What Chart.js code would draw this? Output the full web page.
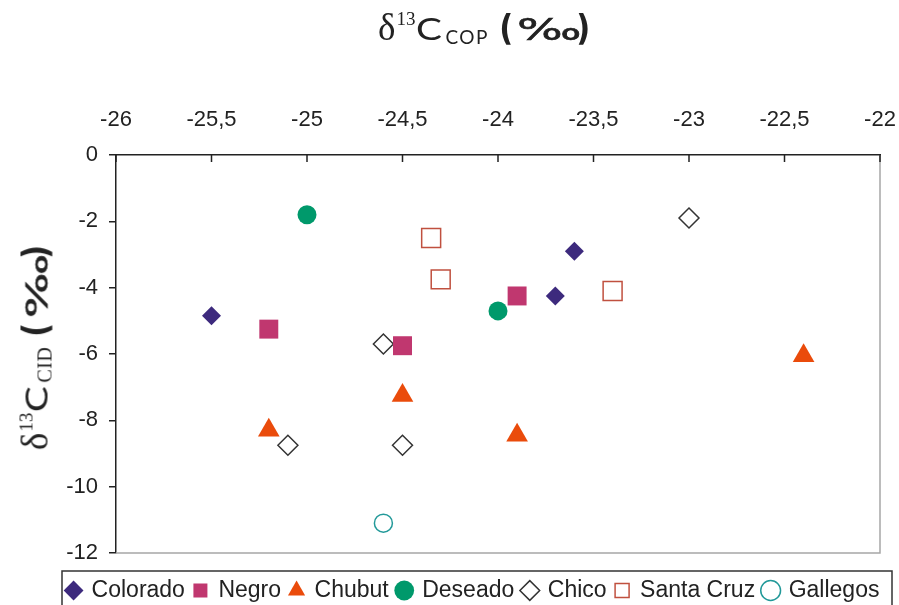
<!DOCTYPE html>
<html>
<head>
<meta charset="utf-8">
<script src="https://cdn.jsdelivr.net/npm/chart.js@4.4.1/dist/chart.umd.min.js"></script>
<style>
  body { margin: 0; background: #fff; overflow: hidden; }
  #wrap { position: relative; width: 899px; height: 605px; }
  .ttl { position: absolute; white-space: nowrap; color: #222; font-family: Lato, "Open Sans", sans-serif; line-height: 1; }
  .ttl span { display: inline-block; }
  .ttl .g { font-family: "Liberation Serif", serif; font-size: 37px; }
  .ttl .sup { font-family: "Liberation Serif", serif; font-size: 19px; position: relative; top: -15px; margin-left: 1px; }
  .ttl .c { font-size: 31px; width: 29px; transform: scaleX(1.25); transform-origin: left; margin-left: 1px; }
  .ttl .sub { font-size: 19px; letter-spacing: 1.5px; position: relative; top: 4px; }
  .ttl .pm { font-family: "DejaVu Sans", sans-serif; margin-left: 9px; }
  .ttl .par { font-size: 36px; font-weight: bold; transform: scaleX(0.85); }
  .ttl .per { font-size: 31px; width: 58px; transform: scaleX(1.55); transform-origin: left; margin-left: 3px; -webkit-text-stroke: 0.6px #222; }
  #xt { left: 378px; top: 9px; }
  #yt { left: 35px; top: 347px; transform: translate(-50%, -50%) rotate(-90deg); }
  #yt .sub { font-family: "Liberation Serif", serif; font-size: 20px; letter-spacing: 0.5px; }
</style>
</head>
<body>
<div id="wrap">
  <canvas id="chart" width="899" height="605"></canvas>
  <div id="xt" class="ttl"><span class="g">δ</span><span class="sup">13</span><span class="c">C</span><span class="sub">COP</span><span class="pm"><span class="par">(</span><span class="per">‰</span><span class="par">)</span></span></div>
  <div id="yt" class="ttl"><span class="g">δ</span><span class="sup">13</span><span class="c">C</span><span class="sub">CID</span><span class="pm"><span class="par">(</span><span class="per">‰</span><span class="par">)</span></span></div>
</div>
<script>
// δ13C COP (x) vs δ13C CID (y), per river
const coloradoX = [-25.5, -23.7, -23.6];
const coloradoY = [-4.85, -4.25, -2.9];
const negroX = [-25.2, -24.5, -23.9];
const negroY = [-5.25, -5.75, -4.25];
const chubutX = [-25.2, -24.5, -23.9, -22.4];
const chubutY = [-8.3, -7.25, -8.45, -6.05];
const deseadoX = [-25.0, -24.0];
const deseadoY = [-1.8, -4.7];
const chicoX = [-23.0, -24.6, -25.1, -24.5];
const chicoY = [-1.9, -5.7, -8.75, -8.75];
const santaCruzX = [-24.35, -24.3, -23.4];
const santaCruzY = [-2.5, -3.75, -4.1];
const gallegosX = [-24.6];
const gallegosY = [-11.1];

const xTicks = { min: -26, max: -22, step: 0.5 };
const yTicks = { min: -12, max: 0, step: 2 };

const pts = (xs, ys) => xs.map((x, i) => ({ x: x, y: ys[i] }));

function series(label, xs, ys, style, color, radius, filled) {
  return {
    label: label,
    data: pts(xs, ys),
    pointStyle: style,
    pointRadius: radius,
    pointHoverRadius: radius,
    backgroundColor: filled ? color : 'rgba(255,255,255,0)',
    borderColor: color,
    borderWidth: filled ? 0 : 1.5,
    showLine: false
  };
}

const datasets = [
  series('Colorado', coloradoX, coloradoY, 'rectRot', '#3d2a7d', 9.5, true),
  series('Negro', negroX, negroY, 'rect', '#c0376f', 13.4, true),
  series('Chubut', chubutX, chubutY, 'triangle', '#ea4b0b', 12.5, true),
  series('Deseado', deseadoX, deseadoY, 'circle', '#00996b', 9.5, true),
  series('Chico', chicoX, chicoY, 'rectRot', '#333333', 10, false),
  series('Santa Cruz', santaCruzX, santaCruzY, 'rect', '#c0503f', 13.4, false),
  series('Gallegos', gallegosX, gallegosY, 'circle', '#229999', 9, false)
];

// plot frame: grey right/bottom edges, inward ticks on top axis, legend box
const frame = {
  id: 'frame',
  afterLayout(chart) {
    chart.legend.top += 17;
    chart.legend.bottom += 17;
  },
  beforeDatasetsDraw(chart) {
    const { ctx, chartArea: a, scales } = chart;
    ctx.save();
    ctx.lineWidth = 1.5;
    ctx.strokeStyle = '#a6a6a6';
    ctx.beginPath();
    ctx.moveTo(a.left, a.bottom);
    ctx.lineTo(a.right, a.bottom);
    ctx.lineTo(a.right, a.top);
    ctx.stroke();
    ctx.strokeStyle = '#222';
    ctx.beginPath();
    scales.x.ticks.forEach(t => {
      const px = scales.x.getPixelForValue(t.value);
      ctx.moveTo(px, a.top);
      ctx.lineTo(px, a.top + 7);
    });
    ctx.stroke();
    ctx.restore();
  },
  afterDraw(chart) {
    const ctx = chart.ctx;
    ctx.save();
    ctx.strokeStyle = '#333';
    ctx.lineWidth = 1.5;
    ctx.strokeRect(62, 571, 830, 50);
    ctx.restore();
  }
};

new Chart(document.getElementById('chart'), {
  type: 'scatter',
  data: { datasets: datasets },
  plugins: [frame],
  options: {
    responsive: false,
    animation: false,
    layout: { padding: { left: 47.5, right: 0, top: 0, bottom: 10 } },
    plugins: {
      tooltip: { enabled: false },
      title: { display: false },
      legend: {
        position: 'bottom',
        labels: {
          usePointStyle: true,
          boxWidth: 13,
          boxHeight: 14,
          padding: 9,
          color: '#222',
          font: { family: 'Liberation Sans, Arial', size: 23 }
        }
      }
    },
    scales: {
      x: {
        type: 'linear',
        position: 'top',
        min: xTicks.min,
        max: xTicks.max,
        afterFit: s => { s.height = 155; s.paddingLeft = 0; s.paddingRight = 19; },
        ticks: {
          stepSize: xTicks.step,
          padding: 22,
          color: '#222',
          font: { family: 'Liberation Sans, Arial', size: 22 },
          callback: v => String(v).replace('.', ',')
        },
        grid: { display: false, drawTicks: false },
        border: { display: true, color: '#222', width: 1.5 }
      },
      y: {
        type: 'linear',
        min: yTicks.min,
        max: yTicks.max,
        afterFit: s => { s.width = 68.5; },
        ticks: {
          stepSize: yTicks.step,
          padding: 11,
          color: '#222',
          font: { family: 'Liberation Sans, Arial', size: 22 }
        },
        grid: { drawOnChartArea: false, drawTicks: true, tickLength: 7, color: '#222', lineWidth: 1.5 },
        border: { display: true, color: '#222', width: 1.5 }
      }
    }
  }
});
</script>
</body>
</html>
